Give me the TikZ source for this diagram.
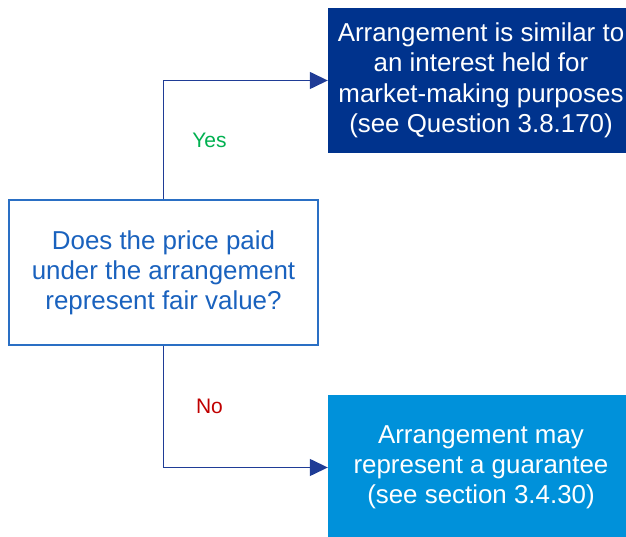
\documentclass[tikz,border=0pt]{standalone}
\usepackage{fontspec}
\setmainfont{Liberation Sans}
\usetikzlibrary{arrows.meta}
\definecolor{fvink}{HTML}{1A62BE}
\definecolor{fvframe}{HTML}{2A6FC4}
\definecolor{fvline}{HTML}{1F3C96}
\definecolor{fvdark}{HTML}{00338D}
\definecolor{fvmid}{HTML}{0091DA}
\definecolor{fvyes}{HTML}{00B050}
\definecolor{fvno}{HTML}{C00000}
\tikzset{
  fv question/.style={draw=fvframe, line width=1.3pt, fill=white, text=fvink,
    minimum width=309pt, minimum height=145pt, inner sep=0pt, align=center,
    font=\fontsize{25.9}{30}\selectfont},
  fv outcome/.style={draw=none, text=white, minimum width=306pt,
    minimum height=145pt, inner sep=0pt, align=center,
    font=\fontsize{25.9}{30.5}\selectfont},
  fv arrow/.style={-{Triangle[length=18pt,width=17pt]}, line width=1.4pt,
    draw=fvline},
  fv label/.style={font=\fontsize{21}{24}\selectfont, inner sep=0pt}
}
\begin{document}
\begin{tikzpicture}[x=1pt, y=1pt]
  \useasboundingbox (0,0) rectangle (626,537);

  \node[fv question] (question) at (163.5,264.5)
    {Does the price paid\\under the arrangement\\represent fair value?};
  \node[fv outcome, fill=fvdark] (similar) at (481,456.5)
    {Arrangement is similar to\\an interest held for\\market-making purposes\\(see Question 3.8.170)};
  \node[fv outcome, fill=fvmid, font=\fontsize{25.9}{30}\selectfont] (guarantee) at (481,69.5)
    {Arrangement may\\represent a guarantee\\(see section 3.4.30)};

  \draw[fv arrow] (question.north) |- node[fv label, text=fvyes, pos=0.25, xshift=46pt] {Yes} (similar.west);
  \draw[fv arrow] (question.south) |- node[fv label, text=fvno, pos=0.25, xshift=46pt] {No} (guarantee.west);
\end{tikzpicture}
\end{document}
